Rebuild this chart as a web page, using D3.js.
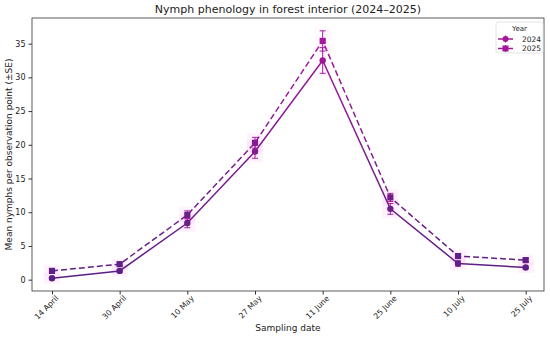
<!DOCTYPE html>
<html lang="en">
<head>
<meta charset="UTF-8">
<title>Nymph phenology</title>
<script src="https://cdn.jsdelivr.net/npm/d3@7"></script>
<style>
  body { margin: 0; background: #fff; }
  text { font-family: "DejaVu Sans", sans-serif; fill: #222; }
</style>
</head>
<body>
<script>
// data
var dates = ["14 April", "30 April", "10 May", "27 May", "11 June", "25 June", "10 July", "25 July"];
var mean2024 = [0.2, 1.3, 8.4, 19.0, 32.5, 10.5, 2.4, 1.8];
var se2024   = [0.2, 0.2, 0.7, 1.0, 1.9, 0.8, 0.4, 0.2];
var mean2025 = [1.3, 2.3, 9.6, 20.3, 35.4, 12.2, 3.5, 2.9];
var se2025   = [0.2, 0.2, 0.6, 0.8, 1.5, 0.6, 0.3, 0.2];
var yTicks = [0, 5, 10, 15, 20, 25, 30, 35];

var W = 550, H = 337;
// plot frame (note: "top" is reserved by window, so use a prefix)
var pLeft = 32, pRight = 544, pTop = 18, pBottom = 291;

var svg = d3.select("body").append("svg")
    .attr("width", W)
    .attr("height", H);

var x = d3.scalePoint().domain(dates).range([52, 525.7]);
var y = d3.scaleLinear().domain([-1.68, 38.8]).range([pBottom, pTop]);

// colour goes from dark purple at low values to magenta at the peak
var col = d3.scaleLinear().domain([0, 35]).range(["#5a1f84", "#a3189b"]);

var defs = svg.append("defs");
var grad = defs.append("linearGradient")
    .attr("id", "lineGrad")
    .attr("gradientUnits", "userSpaceOnUse")
    .attr("x1", 0).attr("x2", 0)
    .attr("y1", y(0)).attr("y2", y(35));
grad.append("stop").attr("offset", "0%").attr("stop-color", col(0));
grad.append("stop").attr("offset", "100%").attr("stop-color", col(35));

var series = [
  { name: "2024", mean: mean2024, se: se2024, dash: null, shape: "circle" },
  { name: "2025", mean: mean2025, se: se2025, dash: "6,3", shape: "square" }
];

// faint pink halos behind the points (fade out towards the peak)
var halo = svg.append("g");
series.forEach(function(s) {
  halo.selectAll(null).data(s.mean).enter().append("rect")
      .attr("x", function(d, i) { return x(dates[i]) - 8; })
      .attr("y", function(d, i) { return y(d + s.se[i]) - 4; })
      .attr("width", 16)
      .attr("height", function(d, i) { return y(d - s.se[i]) - y(d + s.se[i]) + 8; })
      .attr("fill", "#ff66e6")
      .attr("opacity", function(d) { return d > 25 ? 0.03 : 0.09; });
});

// lines
var line = d3.line()
    .x(function(d, i) { return x(dates[i]); })
    .y(function(d) { return y(d); });

series.forEach(function(s) {
  svg.append("path")
      .datum(s.mean)
      .attr("d", line)
      .attr("fill", "none")
      .attr("stroke", "url(#lineGrad)")
      .attr("stroke-width", 1.5)
      .attr("stroke-dasharray", s.dash);
});

// error bars
series.forEach(function(s) {
  var g = svg.append("g").attr("stroke", "#a81aa0").attr("stroke-width", 1);
  s.mean.forEach(function(d, i) {
    var cx = x(dates[i]);
    g.append("line").attr("x1", cx).attr("x2", cx)
        .attr("y1", y(d - s.se[i])).attr("y2", y(d + s.se[i]));
    g.append("line").attr("x1", cx - 3).attr("x2", cx + 3)
        .attr("y1", y(d - s.se[i])).attr("y2", y(d - s.se[i]));
    g.append("line").attr("x1", cx - 3).attr("x2", cx + 3)
        .attr("y1", y(d + s.se[i])).attr("y2", y(d + s.se[i]));
  });
});

// markers
series.forEach(function(s) {
  if (s.shape == "circle") {
    svg.selectAll(null).data(s.mean).enter().append("circle")
        .attr("cx", function(d, i) { return x(dates[i]); })
        .attr("cy", function(d) { return y(d); })
        .attr("r", 3.2)
        .attr("fill", function(d) { return col(d); });
  } else {
    svg.selectAll(null).data(s.mean).enter().append("rect")
        .attr("x", function(d, i) { return x(dates[i]) - 3.1; })
        .attr("y", function(d) { return y(d) - 3.1; })
        .attr("width", 6.2).attr("height", 6.2)
        .attr("fill", function(d) { return col(d); });
  }
});

// frame
svg.append("rect")
    .attr("x", pLeft).attr("y", pTop)
    .attr("width", pRight - pLeft).attr("height", pBottom - pTop)
    .attr("fill", "none").attr("stroke", "#333").attr("stroke-width", 0.8);

// axes
var xAxis = svg.append("g")
    .attr("transform", "translate(0," + pBottom + ")")
    .call(d3.axisBottom(x).tickSize(3.5).tickPadding(2));
xAxis.select(".domain").remove();
xAxis.selectAll("line").attr("stroke", "#333");
xAxis.selectAll("text")
    .attr("font-size", "7.8px")
    .attr("text-anchor", "end")
    .attr("dx", "-0.1em").attr("dy", "0.6em")
    .attr("transform", "rotate(-45)");

var yAxis = svg.append("g")
    .attr("transform", "translate(" + pLeft + ",0)")
    .call(d3.axisLeft(y).tickValues(yTicks).tickSize(3.5).tickPadding(3));
yAxis.select(".domain").remove();
yAxis.selectAll("line").attr("stroke", "#333");
yAxis.selectAll("text").attr("font-size", "8px");

// labels
svg.append("text")
    .attr("x", (pLeft + pRight) / 2).attr("y", 13)
    .attr("text-anchor", "middle")
    .attr("font-size", "11px")
    .text("Nymph phenology in forest interior (2024–2025)");

svg.append("text")
    .attr("x", (pLeft + pRight) / 2).attr("y", 331)
    .attr("text-anchor", "middle")
    .attr("font-size", "9px")
    .text("Sampling date");

svg.append("text")
    .attr("transform", "translate(12," + ((pTop + pBottom) / 2) + ") rotate(-90)")
    .attr("text-anchor", "middle")
    .attr("font-size", "9px")
    .text("Mean nymphs per observation point (±SE)");

// legend
var lg = svg.append("g").attr("transform", "translate(496,22)");
lg.append("rect")
    .attr("width", 47).attr("height", 31).attr("rx", 2)
    .attr("fill", "#fff").attr("stroke", "#ddd").attr("stroke-width", 0.8);
lg.append("text").attr("x", 23.5).attr("y", 8.5)
    .attr("text-anchor", "middle").attr("font-size", "7px").text("Year");
series.forEach(function(s, i) {
  var ly = 17 + i * 9.5;
  lg.append("line").attr("x1", 2).attr("x2", 17).attr("y1", ly).attr("y2", ly)
      .attr("stroke", "#a3189b").attr("stroke-width", 1.5)
      .attr("stroke-dasharray", s.dash);
  lg.append("line").attr("x1", 9.5).attr("x2", 9.5).attr("y1", ly - 3.5).attr("y2", ly + 3.5)
      .attr("stroke", "#a81aa0");
  if (s.shape == "circle") {
    lg.append("circle").attr("cx", 9.5).attr("cy", ly).attr("r", 3).attr("fill", "#a3189b");
  } else {
    lg.append("rect").attr("x", 6.5).attr("y", ly - 3).attr("width", 6).attr("height", 6).attr("fill", "#a3189b");
  }
  lg.append("text").attr("x", 26).attr("y", ly + 2.5)
      .attr("font-size", "7.5px").text(s.name);
});
</script>
</body>
</html>
